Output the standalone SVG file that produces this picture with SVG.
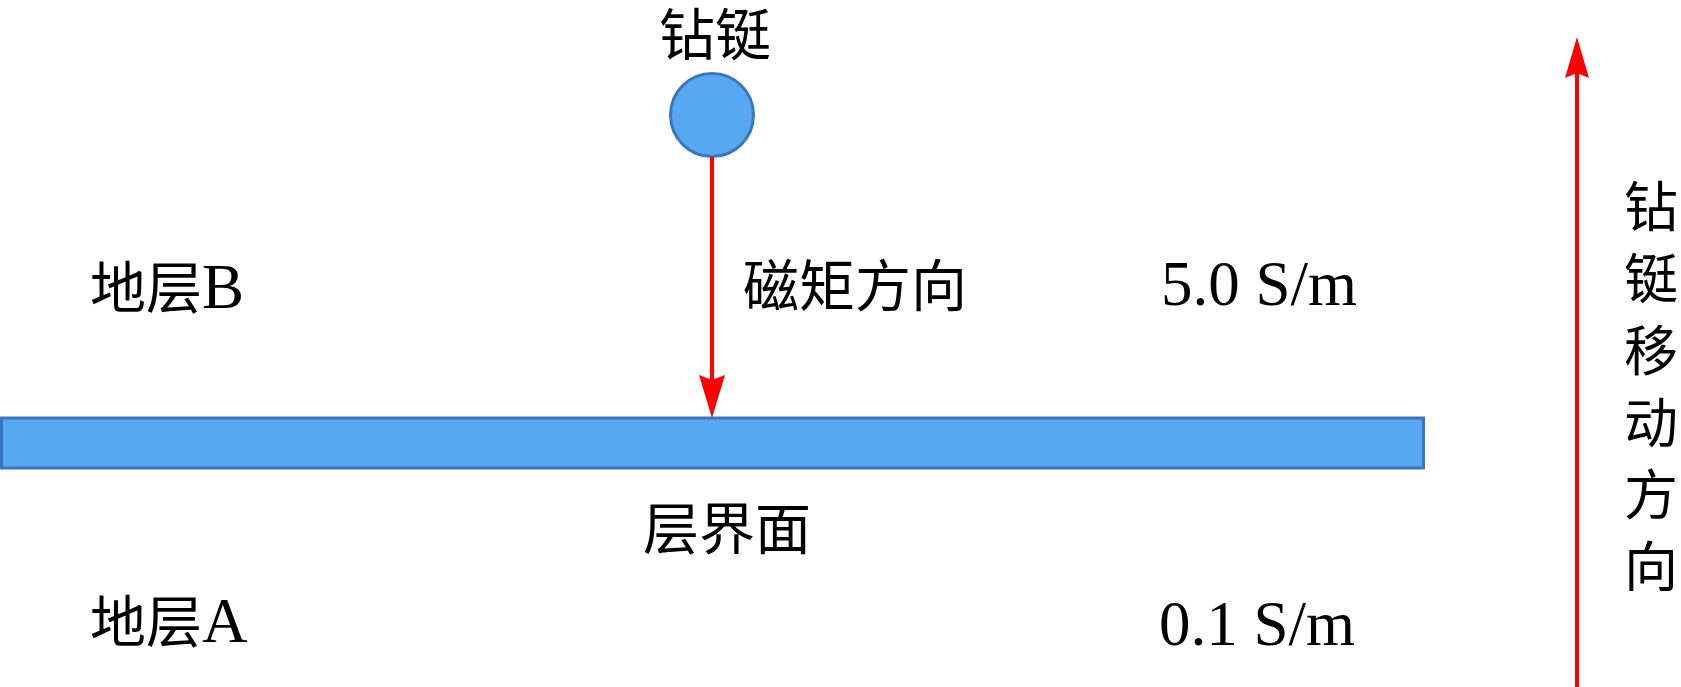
<svg xmlns="http://www.w3.org/2000/svg" width="1681" height="687" viewBox="0 0 1681 687">
<style>
.cn{font-family:"Noto Sans CJK SC","Liberation Serif",serif;font-size:56px;fill:#000}
.lt{font-family:"Liberation Serif","Noto Sans CJK SC",serif;font-size:63px;fill:#000}
.blue{fill:#56A8F0;stroke:#3D76C0;stroke-width:3}
.red{stroke:#FF0000;stroke-width:4;fill:none}
.head{fill:#FF0000}
</style>
<rect width="1681" height="687" fill="#fff"/>
<g id="interface">
<rect class="blue" x="1.5" y="418" width="1422" height="50"/>
<text class="cn" x="643" y="549">层界面</text>
</g>
<g id="drill">
<circle class="blue" cx="712" cy="115" r="41.5"/>
<text class="cn" x="659" y="55">钻铤</text>
</g>
<g id="layerB">
<text x="90" y="308"><tspan class="cn">地层</tspan><tspan class="lt">B</tspan></text>
<text class="lt" x="1161" y="305">5.0 S/m</text>
</g>
<g id="layerA">
<text x="90" y="642"><tspan class="cn">地层</tspan><tspan class="lt">A</tspan></text>
<text class="lt" x="1159" y="645">0.1 S/m</text>
</g>
<g id="moment-label">
<text class="cn" x="743" y="306">磁矩方向</text>
</g>
<g id="move-label">
<text class="cn" style="font-size:54px" text-anchor="middle">
<tspan x="1651" y="227">钻</tspan><tspan x="1651" y="299">铤</tspan><tspan x="1651" y="371">移</tspan><tspan x="1651" y="443">动</tspan><tspan x="1651" y="515">方</tspan><tspan x="1651" y="587">向</tspan>
</text>
</g>
<g id="connectors">
<line class="red" x1="712" y1="157" x2="712" y2="380"/>
<path class="head" d="M699,375 L712,418 L725,375 L712,380 Z"/>
<line class="red" x1="1577" y1="687" x2="1577" y2="72"/>
<path class="head" d="M1565,78 L1577,37 L1589,78 L1577,73 Z"/>
</g>
</svg>
